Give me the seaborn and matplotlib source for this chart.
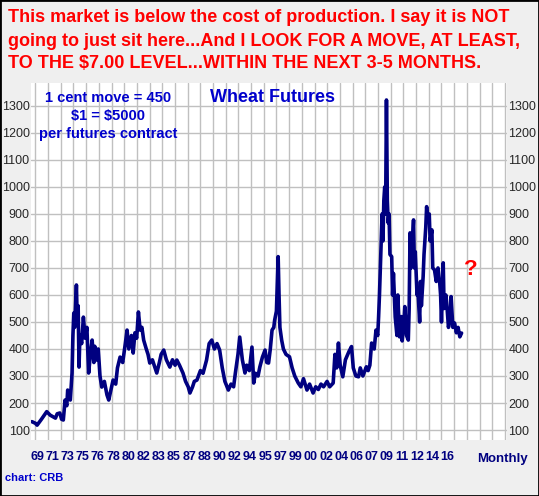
import matplotlib
matplotlib.use("Agg")
import matplotlib.pyplot as plt
import seaborn as sns
import numpy as np
import pandas as pd

years = [1968.4,1968.8,1969.0,1969.5,1970.1,1970.5,1971.1,1971.3,1971.6,1971.8,1972.0,1972.2,1972.4,1972.5,
 1972.7,1972.8,1973.0,1973.1,1973.2,1973.3,1973.4,1973.5,1973.6,1973.7,1973.8,1973.9,1974.1,1974.3,1974.5,
 1974.7,1974.9,1975.1,1975.3,1975.5,1975.6,1975.8,1976.0,1976.2,1976.4,1976.7,1977.0,1977.2,1977.4,1977.7,
 1978.0,1978.2,1978.5,1978.8,1979.1,1979.3,1979.5,1979.8,1980.0,1980.2,1980.4,1980.6,1980.8,1981.0,1981.2,
 1981.5,1981.7,1981.9,1982.2,1982.5,1982.7,1983.0,1983.2,1983.5,1983.8,1984.2,1984.5,1984.8,1985.0,1985.3,
 1985.7,1986.0,1986.3,1986.5,1986.8,1987.0,1987.3,1987.7,1988.0,1988.4,1988.7,1989.0,1989.3,1989.6,1989.9,
 1990.2,1990.5,1990.9,1991.2,1991.5,1991.7,1992.0,1992.2,1992.5,1992.8,1993.0,1993.3,1993.6,1993.8,1994.0,
 1994.3,1994.5,1994.8,1995.1,1995.3,1995.5,1995.7,1995.9,1996.1,1996.2,1996.4,1996.6,1996.7,1996.8,1997.0,
 1997.2,1997.5,1997.9,1998.2,1998.5,1998.9,1999.2,1999.5,1999.9,2000.2,2000.6,2000.9,2001.2,2001.5,2001.8,
 2002.2,2002.5,2002.9,2003.1,2003.3,2003.5,2003.7,2004.0,2004.3,2004.7,2005.0,2005.2,2005.5,2005.8,2006.0,
 2006.3,2006.7,2006.9,2007.1,2007.3,2007.6,2007.8,2008.0,2008.1,2008.2,2008.3,2008.4,2008.5,2008.6,2008.7,
 2008.8,2008.9,2009.0,2009.1,2009.2,2009.3,2009.4,2009.6,2009.7,2009.8,2010.0,2010.2,2010.3,2010.5,2010.7,
 2010.8,2011.0,2011.1,2011.3,2011.5,2011.6,2011.7,2011.8,2011.9,2012.0,2012.1,2012.2,2012.3,2012.5,2012.6,
 2012.8,2012.9,2013.0,2013.2,2013.3,2013.5,2013.6,2013.7,2013.9,2014.0,2014.2,2014.3,2014.5,2014.7,2014.9,
 2015.1,2015.2,2015.3,2015.5,2015.6,2015.8,2015.9,2016.1,2016.3,2016.4,2016.6,2016.8,2017.0,2017.2,2017.4,
 2017.6]
prices = [131,125,118,140,168,155,144,160,163,140,137,211,190,248,220,211,311,450,533,480,560,637,500,560,
 333,450,420,518,440,480,311,380,433,350,410,359,400,300,259,280,230,211,240,285,270,330,370,350,420,470,
 400,450,385,460,440,537,470,480,433,400,380,348,360,330,311,350,380,396,360,333,360,340,359,340,311,280,
 260,237,260,280,285,320,310,359,420,433,400,420,396,330,280,248,270,260,311,380,444,360,311,340,320,407,
 274,310,300,333,370,396,350,348,400,470,480,507,540,742,600,480,433,400,380,371,330,300,274,260,290,248,
 270,237,260,250,270,260,280,260,274,380,330,422,340,297,360,390,409,330,300,297,330,300,334,320,340,422,
 400,470,450,519,600,700,804,900,800,950,1000,900,1322,950,867,900,750,742,600,680,519,450,600,445,520,
 430,500,557,450,433,550,830,700,760,820,878,700,760,600,619,500,650,560,668,750,850,927,880,900,800,841,
 700,693,650,700,644,600,500,719,550,600,570,480,520,594,480,496,460,480,445,459]
tick_labels = ["69","71","73","75","76","78","80","82","83","85","87","88","90","92","94","95","97",
               "99","00","02","04","06","07","09","11","12","14","16"]
df = pd.DataFrame({"year": years, "price": prices})

sns.set_style("white")
plt.rcParams['font.family'] = ['Liberation Sans', 'DejaVu Sans']
fig = plt.figure(figsize=(5.39, 4.96), dpi=100, facecolor="#efefef")
ax = fig.add_axes([0.0575, 0.1129, 0.8831, 0.7198])
ax.set_facecolor("white")
x0, x1 = 1968.3, 2022.8
ax.set_xlim(x0, x1)
ax.set_ylim(63, 1385)
for gx in np.arange(x0 + 0.5, x1, 1.453):
    ax.axvline(gx, color="#c0c0c0", lw=1, zorder=0)
for gy in range(100, 1400, 100):
    ax.axhline(gy, color="#c0c0c0", lw=1, zorder=0)
sns.lineplot(data=df, x="year", y="price", ax=ax, color="#000080", lw=2.6, zorder=3)
for s in ax.spines.values():
    s.set_visible(False)
ax.set_xlabel(""); ax.set_ylabel("")
narrow = ['Liberation Sans Narrow', 'Liberation Sans', 'DejaVu Sans']
ax.set_xticks(np.linspace(1969.0, 2016.0, len(tick_labels)))
ax.set_xticklabels(tick_labels, family=narrow, fontweight="bold", fontsize=9, color="#000080")
ax.set_yticks(range(100, 1400, 100))
ax.set_yticklabels([str(v) for v in range(100, 1400, 100)], family=narrow, fontsize=9)
ax.tick_params(axis="both", length=0, pad=3)
ax.tick_params(axis="y", labelright=True, pad=1)
ax.tick_params(axis="x", pad=8)

red = "#ff0000"
for i, line in enumerate(["This market is below the cost of production. I say it is NOT",
                          "going to just sit here...And I LOOK FOR A MOVE, AT LEAST,",
                          "TO THE \\$7.00 LEVEL...WITHIN THE NEXT 3-5 MONTHS."]):
    fig.text(8/539, 1 - (18 + 23*i)/496, line, color=red, fontweight="bold", fontsize=13,
             va="center", ha="left")
blue = "#0000cc"
fig.text(108/539, 1 - 98/496, "1 cent move = 450", color=blue, fontweight="bold", fontsize=10.5, ha="center", va="center")
fig.text(108/539, 1 - 116/496, "\\$1 = \\$5000", color=blue, fontweight="bold", fontsize=10.5, ha="center", va="center")
fig.text(108/539, 1 - 134/496, "per futures contract", color=blue, fontweight="bold", fontsize=10.5, ha="center", va="center")
fig.text(272/539, 1 - 98/496, "Wheat Futures", color=blue, fontweight="bold", fontsize=13, ha="center", va="center")
ax.text(2018.6, 693, "?", color=red, fontweight="bold", fontsize=16, ha="center", va="center")
fig.text(503/539, 1 - 459/496, "Monthly", color="#000080", fontweight="bold", fontsize=9.5, ha="center", va="center", family=narrow)
fig.text(5/539, 1 - 478/496, "chart: CRB", color=blue, fontweight="bold", fontsize=8, ha="left", va="center")
fig.patches.append(plt.Rectangle((0, 0), 1, 1, transform=fig.transFigure, fill=False, edgecolor="black", lw=2))
fig.savefig("out.png", dpi=100, facecolor=fig.get_facecolor())
